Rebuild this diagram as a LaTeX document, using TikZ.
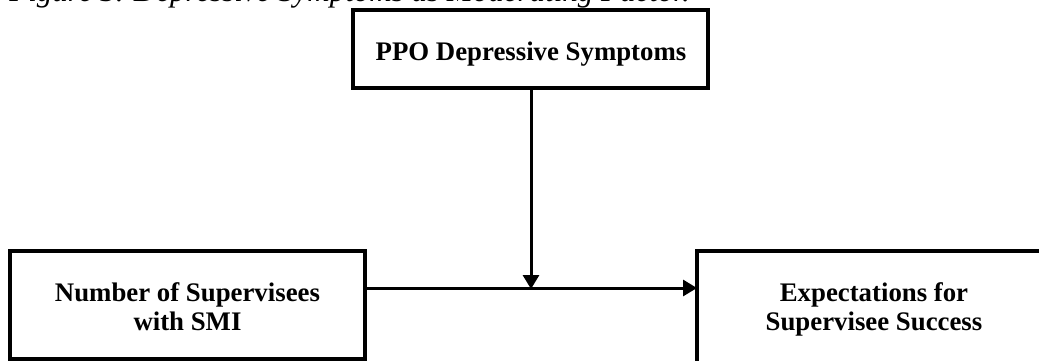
\documentclass[tikz,border=0pt]{standalone}
\usepackage{fontspec}
\setmainfont{Liberation Serif}
\usetikzlibrary{arrows.meta}
\begin{document}
\begin{tikzpicture}[x=1pt,y=-1pt,
  varbox/.style={draw=black,line width=3.5pt,line join=miter,inner sep=0pt},
  boxtext/.style={font=\fontsize{26.8}{28.5}\selectfont\bfseries,align=center,inner sep=0pt},
  conn/.style={draw=black,line width=3pt,-{Triangle[length=14pt,width=16pt]}}]
\useasboundingbox (0,0) rectangle (1039,360);
\clip (0,0) rectangle (1039,360);
\node[anchor=base east,inner sep=0pt,font=\fontsize{31}{34}\selectfont\itshape] (title) at (690,1) {Figure 3. Depressive Symptoms as Moderating Factor.};
% boxes
\draw[varbox] (353,10) rectangle (708,88);
\coordinate (topS) at (531,88);
\node[boxtext,anchor=base] (top) at (531,60) {PPO Depressive Symptoms};
\draw[varbox] (10,251) rectangle (365,359);
\coordinate (leftE) at (365,288);
\node[boxtext,anchor=base] (left) at (187.5,330) {Number of Supervisees\\with SMI};
\draw[varbox] (697,251) rectangle (1051,380);
\coordinate (rightW) at (697,288);
\node[boxtext,anchor=base] (right) at (874,330) {Expectations for\\Supervisee Success};
% connectors
\coordinate (mid) at (531,288);
\draw[conn] (leftE) -- (rightW);
\draw[conn] (topS) -- ([yshift=-1pt]mid);
\end{tikzpicture}
\end{document}
